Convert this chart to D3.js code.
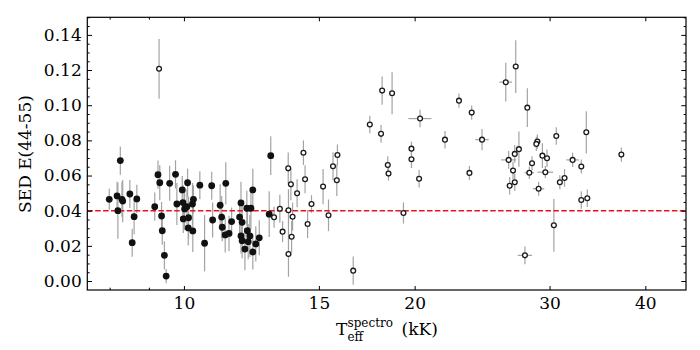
<!DOCTYPE html>
<html>
<head>
<meta charset="utf-8">
<script src="https://cdn.jsdelivr.net/npm/d3@7"></script>
<style>
  body { margin: 0; background: #fff; }
  text { font-family: "DejaVu Serif", serif; fill: #000; }
</style>
</head>
<body>
<svg id="chart" width="700" height="350"></svg>
<script>
// cool stars (filled markers)
var coolT = [7.99, 8.26, 8.18, 8.20, 8.30, 8.32, 8.50, 8.61, 8.56, 8.68,
  9.16, 9.25, 9.30, 9.35, 9.37, 9.43, 9.48, 9.58, 9.75, 9.79,
  9.95, 9.97, 10.02, 9.98, 10.09, 10.11, 10.14, 10.13, 10.26, 10.29,
  10.27, 10.49, 10.64, 10.87, 10.90, 11.15, 11.20, 11.22, 11.34, 11.32,
  11.45, 11.54, 11.82, 11.87, 11.91, 12.08, 12.10, 11.87, 11.91, 12.01,
  12.13, 12.23, 12.30, 12.30, 12.41, 12.54, 12.19, 12.98, 12.92];
var coolE = [0.0465, 0.0685, 0.0484, 0.0400, 0.0465, 0.0455, 0.0495, 0.0366, 0.0218, 0.0467,
  0.0423, 0.0605, 0.0559, 0.0370, 0.0286, 0.0146, 0.0028, 0.0556, 0.0607, 0.0438,
  0.0518, 0.0446, 0.0410, 0.0353, 0.0423, 0.0559, 0.0360, 0.0302, 0.0438, 0.0465,
  0.0285, 0.0545, 0.0215, 0.0542, 0.0347, 0.0431, 0.0364, 0.0306, 0.0556, 0.0262,
  0.0271, 0.0338, 0.0364, 0.0444, 0.0334, 0.0414, 0.0286, 0.0256, 0.0229, 0.0182,
  0.0224, 0.0414, 0.0518, 0.0165, 0.0211, 0.0246, 0.0256, 0.0713, 0.0380];
var coolErr = [0.006, 0.008, 0.008, 0.016, 0.010, 0.012, 0.008, 0.010, 0.008, 0.008,
  0.008, 0.008, 0.010, 0.008, 0.008, 0.008, 0.004, 0.010, 0.008, 0.012,
  0.008, 0.010, 0.012, 0.008, 0.010, 0.008, 0.012, 0.010, 0.012, 0.008,
  0.012, 0.008, 0.016, 0.008, 0.010, 0.012, 0.012, 0.008, 0.012, 0.010,
  0.010, 0.008, 0.010, 0.012, 0.012, 0.010, 0.012, 0.010, 0.010, 0.012,
  0.010, 0.012, 0.012, 0.010, 0.010, 0.010, 0.012, 0.011, 0.013];

// hot stars (open markers)
var hotT = [9.28, 13.11, 13.34, 13.45, 13.68, 13.69, 13.79, 13.86, 13.82, 13.69,
  14.05, 14.32, 14.39, 14.50, 14.67, 15.19, 15.44, 15.65, 15.86, 15.83,
  16.63, 17.48, 18.08, 18.14, 18.69, 18.45, 18.49, 19.34, 19.81, 19.81,
  20.27, 20.33, 21.91, 22.85, 23.74, 23.58, 24.49, 26.30, 27.10, 28.06,
  26.53, 27.02, 27.36, 26.88, 26.61, 27.02, 28.92, 28.83, 30.61, 33.50,
  28.46, 28.23, 29.36, 29.77, 29.62, 29.03, 30.94, 31.38, 32.15, 33.00,
  33.00, 33.60, 37.22, 30.39, 27.86];
var hotE = [0.1207, 0.0363, 0.0411, 0.0281, 0.0641, 0.0402, 0.0550, 0.0366, 0.0252, 0.0154,
  0.0499, 0.0730, 0.0579, 0.0324, 0.0438, 0.0537, 0.0374, 0.0653, 0.0717, 0.0573,
  0.0059, 0.0890, 0.0837, 0.1083, 0.1068, 0.0660, 0.0611, 0.0387, 0.0753, 0.0693,
  0.0582, 0.0924, 0.0804, 0.1026, 0.0958, 0.0615, 0.0804, 0.1131, 0.1220, 0.0986,
  0.0689, 0.0723, 0.0750, 0.0628, 0.0542, 0.0562, 0.0793, 0.0780, 0.0825, 0.0846,
  0.0670, 0.0616, 0.0713, 0.0698, 0.0619, 0.0525, 0.0562, 0.0586, 0.0689, 0.0651,
  0.0461, 0.0471, 0.0719, 0.0317, 0.0146];
var hotErr = [0.017, 0.006, 0.008, 0.006, 0.009, 0.012, 0.009, 0.008, 0.009, 0.013,
  0.008, 0.007, 0.008, 0.008, 0.005, 0.010, 0.009, 0.008, 0.006, 0.009,
  0.008, 0.005, 0.005, 0.008, 0.012, 0.005, 0.004, 0.006, 0.004, 0.005,
  0.005, 0.005, 0.005, 0.004, 0.004, 0.004, 0.006, 0.011, 0.015, 0.011,
  0.005, 0.005, 0.010, 0.005, 0.005, 0.005, 0.004, 0.004, 0.005, 0.012,
  0.004, 0.0035, 0.007, 0.005, 0.0035, 0.004, 0.004, 0.005, 0.004, 0.004,
  0.005, 0.005, 0.004, 0.015, 0.005];
var hotTErr = [0, 0, 0, 0, 0, 0, 0, 0, 0, 0,
  0, 0, 0, 0, 0, 0, 0, 0, 0, 0,
  0, 0, 0, 0, 0, 0, 0, 0, 0, 0,
  0, 0.7, 0, 0, 0, 0, 0.5, 0.5, 0, 0,
  0.6, 0, 0, 0, 0, 0, 0, 0, 0, 0,
  0, 0.4, 0, 0, 0.7, 0.5, 0, 0, 0.6, 0,
  0, 0, 0, 0.3, 0.6];

var xMajor = [10, 15, 20, 30, 40];
var xMinor = [8, 9];
var yMajor = [0, 0.02, 0.04, 0.06, 0.08, 0.10, 0.12, 0.14];
var threshold = 0.04;

var cool = coolT.map(function(t, i) { return {t: t, e: coolE[i], de: coolErr[i], dt: 0}; });
var hot = hotT.map(function(t, i) { return {t: t, e: hotE[i], de: hotErr[i], dt: hotTErr[i]}; });

var plotL = 87.3, plotR = 686, plotT = 17.3, plotB = 290;

var x = d3.scaleLog().domain([7.48, 45.2]).range([plotL, plotR]);
var y = d3.scaleLinear().domain([-0.0051, 0.150]).range([plotB, plotT]);

var yMinor = d3.range(0, 0.1501, 0.005).filter(function(v) {
  return yMajor.every(function(m) { return Math.abs(m - v) > 1e-6; });
});

var svg = d3.select("#chart");

function noDomain(g) { g.select(".domain").remove(); }

// error bars
var errG = svg.append("g")
    .attr("stroke", "#a3a3a3")
    .attr("stroke-width", 1.2);

var all = cool.concat(hot);
errG.selectAll("line.ey")
    .data(all)
  .enter().append("line")
    .attr("class", "ey")
    .attr("x1", function(d) { return x(d.t); })
    .attr("x2", function(d) { return x(d.t); })
    .attr("y1", function(d) { return y(d.e - d.de); })
    .attr("y2", function(d) { return y(d.e + d.de); });

errG.selectAll("line.ex")
    .data(all.filter(function(d) { return d.dt > 0; }))
  .enter().append("line")
    .attr("class", "ex")
    .attr("x1", function(d) { return x(d.t - d.dt); })
    .attr("x2", function(d) { return x(d.t + d.dt); })
    .attr("y1", function(d) { return y(d.e); })
    .attr("y2", function(d) { return y(d.e); });

// threshold line
svg.append("line")
    .attr("x1", plotL)
    .attr("x2", plotR)
    .attr("y1", y(threshold))
    .attr("y2", y(threshold))
    .attr("stroke", "#e8141c")
    .attr("stroke-width", 1.5)
    .attr("stroke-dasharray", "5.5,2.4");

// markers
svg.append("g").selectAll("circle")
    .data(cool)
  .enter().append("circle")
    .attr("cx", function(d) { return x(d.t); })
    .attr("cy", function(d) { return y(d.e); })
    .attr("r", 3.4)
    .attr("fill", "#111");

svg.append("g").selectAll("circle")
    .data(hot)
  .enter().append("circle")
    .attr("cx", function(d) { return x(d.t); })
    .attr("cy", function(d) { return y(d.e); })
    .attr("r", 2.4)
    .attr("fill", "#fff")
    .attr("stroke", "#1a1a1a")
    .attr("stroke-width", 1.3);

// axes, ticks pointing inward on all four sides
svg.append("g")
    .attr("transform", "translate(0," + plotB + ")")
    .call(d3.axisBottom(x).tickValues(xMajor).tickFormat(d3.format("d"))
      .tickSizeInner(-4).tickSizeOuter(0).tickPadding(7))
    .call(noDomain);
svg.append("g")
    .attr("transform", "translate(0," + plotB + ")")
    .call(d3.axisBottom(x).tickValues(xMinor).tickFormat("").tickSizeInner(-2.3).tickSizeOuter(0))
    .call(noDomain);
svg.append("g")
    .attr("transform", "translate(0," + plotT + ")")
    .call(d3.axisTop(x).tickValues(xMajor).tickFormat("").tickSizeInner(-4).tickSizeOuter(0))
    .call(noDomain);
svg.append("g")
    .attr("transform", "translate(0," + plotT + ")")
    .call(d3.axisTop(x).tickValues(xMinor).tickFormat("").tickSizeInner(-2.3).tickSizeOuter(0))
    .call(noDomain);

svg.append("g")
    .attr("transform", "translate(" + plotL + ",0)")
    .call(d3.axisLeft(y).tickValues(yMajor).tickFormat(d3.format(".2f"))
      .tickSizeInner(-4.7).tickSizeOuter(0).tickPadding(5.6))
    .call(noDomain);
svg.append("g")
    .attr("transform", "translate(" + plotL + ",0)")
    .call(d3.axisLeft(y).tickValues(yMinor).tickFormat("").tickSizeInner(-2.4).tickSizeOuter(0))
    .call(noDomain);
svg.append("g")
    .attr("transform", "translate(" + plotR + ",0)")
    .call(d3.axisRight(y).tickValues(yMajor).tickFormat("").tickSizeInner(-4.7).tickSizeOuter(0))
    .call(noDomain);
svg.append("g")
    .attr("transform", "translate(" + plotR + ",0)")
    .call(d3.axisRight(y).tickValues(yMinor).tickFormat("").tickSizeInner(-2.4).tickSizeOuter(0))
    .call(noDomain);

svg.selectAll(".tick line").attr("stroke", "#000").attr("stroke-width", 1);
svg.selectAll(".tick text")
    .attr("font-family", "DejaVu Serif")
    .attr("font-size", 17)
    .attr("fill", "#000");

// frame
svg.append("rect")
    .attr("x", plotL)
    .attr("y", plotT)
    .attr("width", plotR - plotL)
    .attr("height", plotB - plotT)
    .attr("fill", "none")
    .attr("stroke", "#000")
    .attr("stroke-width", 1.2);

// axis labels
svg.append("text")
    .attr("transform", "translate(31,154) rotate(-90)")
    .attr("text-anchor", "middle")
    .attr("font-size", 17)
    .text("SED E(44-55)");

var xl = svg.append("g");
xl.append("text").attr("x", 336).attr("y", 335).attr("font-size", 17).text("T");
xl.append("text").attr("x", 347.5).attr("y", 326.5).attr("font-size", 12).text("spectro");
xl.append("text").attr("x", 347.5).attr("y", 340.5).attr("font-size", 12).text("eff");
xl.append("text").attr("x", 401.5).attr("y", 335).attr("font-size", 17).text("(kK)");
</script>
</body>
</html>
